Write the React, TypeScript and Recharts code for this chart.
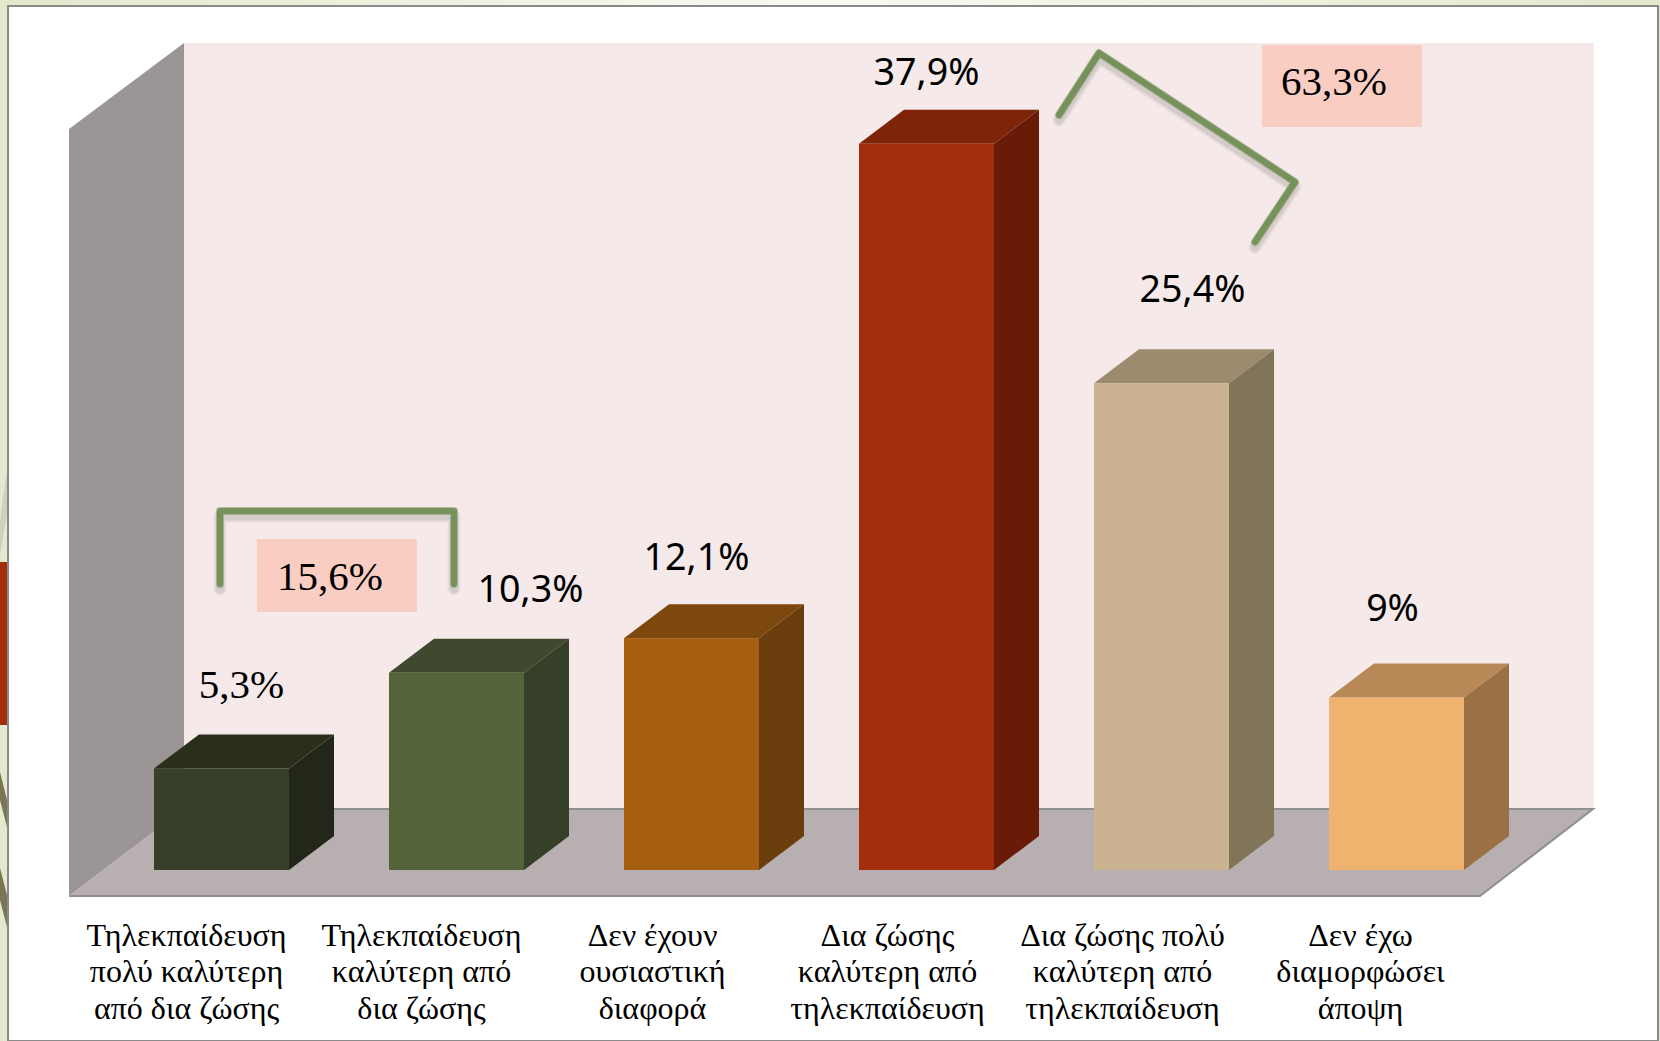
import React from 'react';
import { Bar, BarChart, LabelList, XAxis, YAxis } from 'recharts';

const categories = [
    'Τηλεκπαίδευση\nπολύ καλύτερη\nαπό δια ζώσης',
    'Τηλεκπαίδευση\nκαλύτερη από\nδια ζώσης',
    'Δεν έχουν\nουσιαστική\nδιαφορά',
    'Δια ζώσης\nκαλύτερη από\nτηλεκπαίδευση',
    'Δια ζώσης πολύ\nκαλύτερη από\nτηλεκπαίδευση',
    'Δεν έχω\nδιαμορφώσει\nάποψη',
];
const values = [5.3, 10.3, 12.1, 37.9, 25.4, 9];

// front, top, side of each box
const frontColors = ['#383f28', '#55633b', '#a65f11', '#a32e0c', '#cbb391', '#f0b26f'];
const topColors = ['#2a2f1c', '#40482d', '#7d480d', '#7e2509', '#9c8b6e', '#b88956'];
const sideColors = ['#22271a', '#363f28', '#6a3e0c', '#6a1b08', '#817559', '#9a7145'];

// the labels were placed by hand in the original
const categoryDx = [-35, -35, -39, -39, -39, -36];
const labelDx = [20, 74, 5, 0, 31, -4];
const labelDy = [-70, -71, -68, -59, -81, -77];

const data = categories.map((name, i) => ({ name, value: values[i] }));

const DEPTH_X = 45;
const DEPTH_Y = 34;
const SERIF = "'Liberation Serif', 'Times New Roman', Times, serif";
const SANS = "'Noto Sans', sans-serif";

function Box(props: any) {
    const { x, y, width, height, index } = props;
    const r = x + width;
    const b = y + height;
    return (
        <g>
            <polygon points={`${x},${y} ${x + DEPTH_X},${y - DEPTH_Y} ${r + DEPTH_X},${y - DEPTH_Y} ${r},${y}`} fill={topColors[index]} />
            <polygon points={`${r},${y} ${r + DEPTH_X},${y - DEPTH_Y} ${r + DEPTH_X},${b - DEPTH_Y} ${r},${b}`} fill={sideColors[index]} />
            <rect x={x} y={y} width={width} height={height} fill={frontColors[index]} />
        </g>
    );
}

function CategoryTick(props: any) {
    const { x, y, payload, index } = props;
    const cx = x + categoryDx[index];
    return (
        <text x={cx} y={y} textAnchor="middle" style={{ fontFamily: SERIF, fontSize: 32 }} fill="#000">
            {String(payload.value).split('\n').map((line, i) => (
                <tspan key={i} x={cx} dy={i === 0 ? 68 : 36.3}>{line}</tspan>
            ))}
        </text>
    );
}

function PercentLabel(props: any) {
    const { x, y, width, index, value } = props;
    const serif = index === 0;
    return (
        <text
            x={x + width / 2 + labelDx[index]}
            y={y + labelDy[index]}
            textAnchor="middle"
            style={{ fontFamily: serif ? SERIF : SANS, fontSize: serif ? 41 : 37.6 }}
            fill="#000"
        >
            {String(value).replace('.', ',') + '%'}
        </text>
    );
}

function Scenery() {
    return (
        <g>
            <defs>
                <linearGradient id="strip" x1="0" x2="1" y1="0" y2="0">
                    <stop offset="0" stopColor="#e3e9cc" />
                    <stop offset="0.5" stopColor="#f8f9f2" />
                    <stop offset="1" stopColor="#e3e9cc" />
                </linearGradient>
            </defs>
            <rect x={0} y={0} width={1660} height={1041} fill="#e3e9cc" />
            <rect x={0} y={0} width={1660} height={6} fill="url(#strip)" />
            <rect x={8} y={6} width={1650} height={1035} fill="#fff" stroke="#8a8a8a" strokeWidth={2} />
            <rect x={0} y={562} width={7} height={163} fill="#a32e0c" />
            <polygon points="0,772 7,800 7,827 0,800" fill="#7a7552" />
            <polygon points="0,868 7,895 7,927 0,900" fill="#7a7552" />
            <polygon points="7,515 7,470 0,520 0,555" fill="#cfd2bb" />

            <rect x={184} y={43} width={1410} height={766} fill="#f5e9e9" />
            <polygon points="69,129 184,43 184,809 69,896" fill="#9b9595" />
            <polygon points="69,896 184,809 1593,809 1480,896" fill="#b8afb0" />
            <polyline points="184,809 1593,809 1480,896 69,896" fill="none" stroke="#8f8f8f" strokeWidth={2} />
        </g>
    );
}

function Bracket({ points }: { points: string }) {
    return (
        <g fill="none" strokeLinecap="round" strokeLinejoin="round">
            <polyline points={points} stroke="#000" strokeOpacity={0.05} strokeWidth={13} transform="translate(0,5)" />
            <polyline points={points} stroke="#000" strokeOpacity={0.08} strokeWidth={9} transform="translate(0,5)" />
            <polyline points={points} stroke="#76915a" strokeOpacity={0.5} strokeWidth={8} />
            <polyline points={points} stroke="#76915a" strokeWidth={6} />
        </g>
    );
}

function Annotations() {
    return (
        <g>
            <Bracket points="220,584 220,511 454,511 454,584" />
            <Bracket points="1059,115 1099,53 1295,182 1255,242" />
            <rect x={257} y={539} width={160} height={73} fill="#f9cdc2" />
            <text x={330} y={590} textAnchor="middle" style={{ fontFamily: SERIF, fontSize: 41 }} fill="#000">15,6%</text>
            <rect x={1262} y={45} width={160} height={82} fill="#f9cdc2" />
            <text x={1334} y={95} textAnchor="middle" style={{ fontFamily: SERIF, fontSize: 41 }} fill="#000">63,3%</text>
        </g>
    );
}

export default function App() {
    return (
        <div style={{ position: 'absolute', left: 0, top: 0, width: 1660, height: 1041 }}>
            <BarChart width={1660} height={1041} data={data} barSize={135} margin={{ top: 103.5, right: 146, bottom: 0, left: 104 }}>
                <Scenery />
                <XAxis dataKey="name" interval={0} height={171} axisLine={false} tickLine={false} tick={<CategoryTick />} />
                <YAxis hide domain={[0, 40]} />
                <Bar dataKey="value" shape={<Box />} isAnimationActive={false}>
                    <LabelList dataKey="value" content={<PercentLabel />} />
                </Bar>
                <Annotations />
            </BarChart>
        </div>
    );
}
